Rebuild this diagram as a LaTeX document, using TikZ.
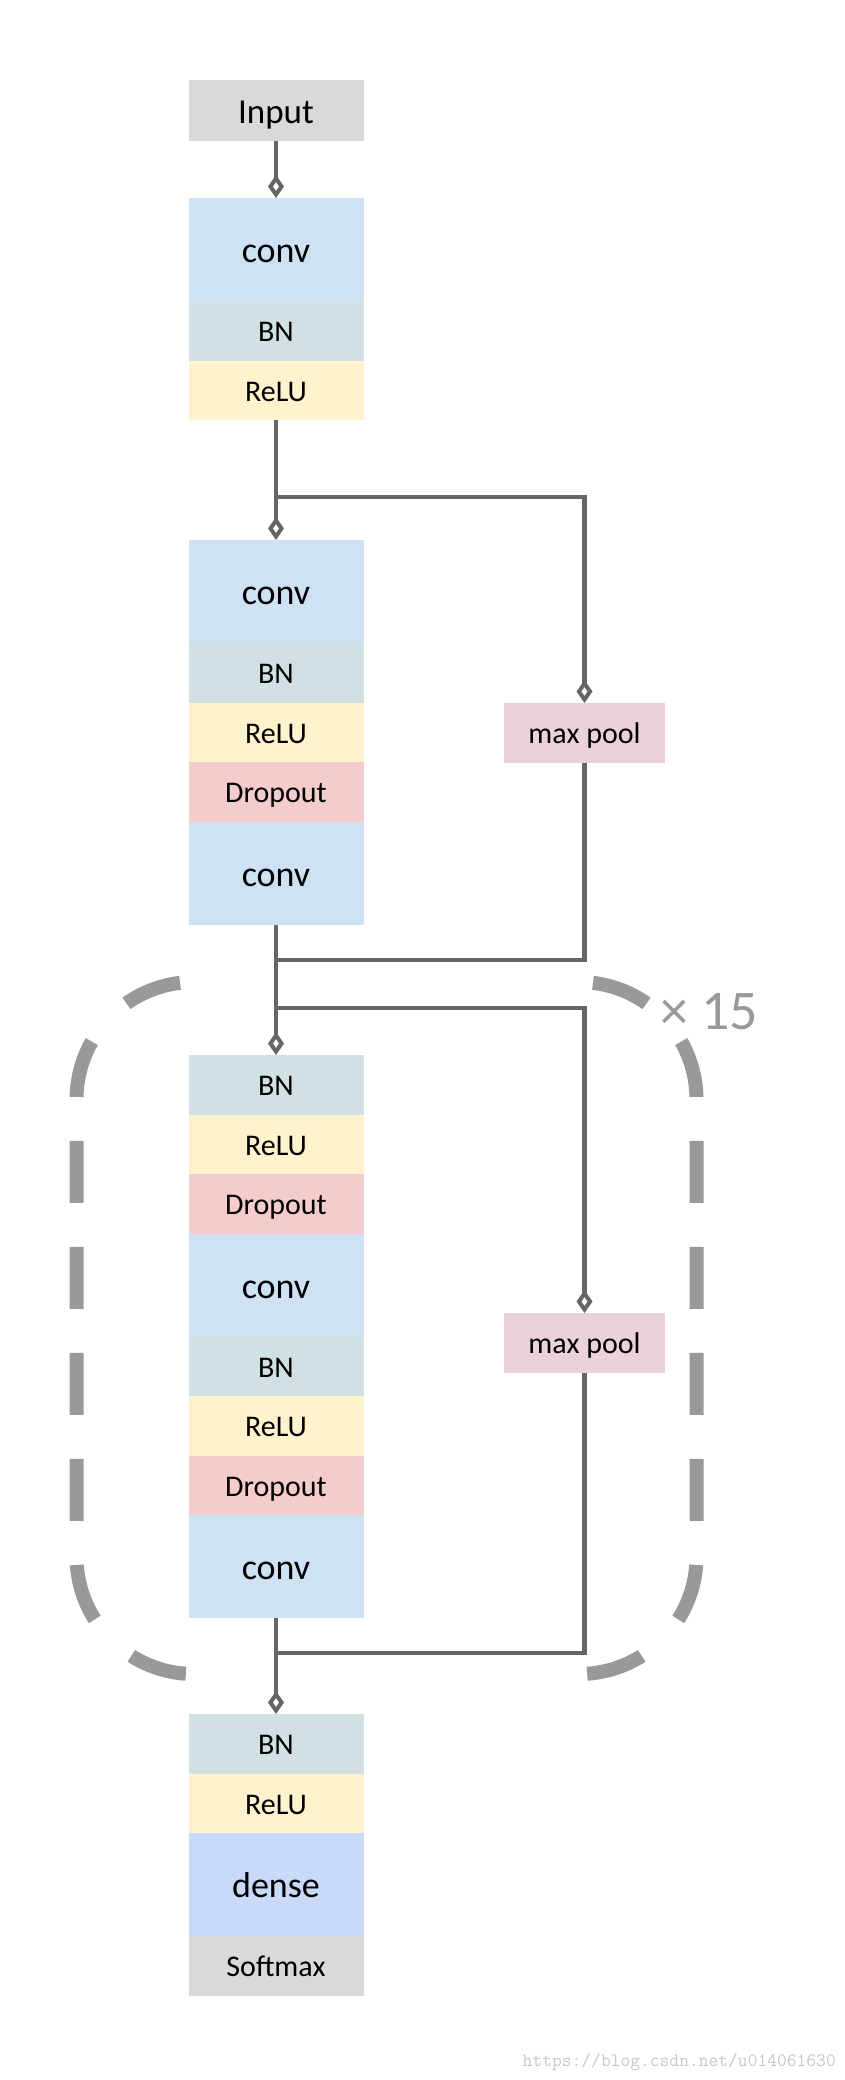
\documentclass[tikz,border=0pt]{standalone}
\usepackage{fontspec}
\setmainfont{Carlito}
\usetikzlibrary{positioning, arrows.meta, calc}

\definecolor{convblue}{HTML}{CFE2F3}
\definecolor{bnteal}{HTML}{D0E0E3}
\definecolor{reluyellow}{HTML}{FFF2CC}
\definecolor{droppink}{HTML}{F4CCCC}
\definecolor{poolmauve}{HTML}{EAD1DC}
\definecolor{denseblue}{HTML}{C9DAF8}
\definecolor{iogray}{HTML}{D9D9D9}
\definecolor{wiregray}{HTML}{666666}
\definecolor{framegray}{HTML}{999999}

\tikzset{
    layer/.style={minimum width=175pt, minimum height=59.5pt, inner sep=0pt,
        outer sep=0pt, text height=22.2pt, text depth=0pt,
        font=\fontsize{30}{36}\selectfont},
    biglayer/.style={layer, minimum height=103pt, text height=26.6pt,
        font=\fontsize{36}{42}\selectfont},
    poolbox/.style={layer, minimum width=161pt, fill=poolmauve},
    wire/.style={draw=wiregray, line width=4.5pt},
    link/.style={wire, -{Diamond[open, fill=white, length=23pt, width=16pt, line width=4pt]}},
    frame/.style={draw=framegray, line width=14pt, rounded corners=117.5pt,
        dash pattern=on 0pt off 14pt on 58pt off 52pt on 58pt off 44pt
        on 62pt off 44pt on 62pt off 44pt on 62pt off 44pt on 62pt off 44pt
        on 58pt off 52pt on 58pt off 40pt}
}

\begin{document}
\begin{tikzpicture}[x=1pt, y=-1pt]
    \useasboundingbox (0,0) rectangle (844,2080);

    % Input
    \node[layer, fill=iogray, minimum height=61pt, text height=25.9pt,
        font=\fontsize{35}{40}\selectfont, anchor=north] (inp) at (276,80) {Input};

    % First block
    \node[biglayer, fill=convblue, anchor=north] (convA) at (276,198) {conv};
    \node[layer, fill=bnteal, below=0pt of convA] (bnA) {BN};
    \node[layer, fill=reluyellow, below=0pt of bnA] (reluA) {ReLU};

    % Second block
    \node[biglayer, fill=convblue, anchor=north] (convB) at (276,540) {conv};
    \node[layer, fill=bnteal, below=0pt of convB] (bnB) {BN};
    \node[layer, fill=reluyellow, below=0pt of bnB] (reluB) {ReLU};
    \node[layer, fill=droppink, below=0pt of reluB] (dropB) {Dropout};
    \node[biglayer, fill=convblue, below=0pt of dropB] (convBB) {conv};
    \node[poolbox, anchor=north] (poolA) at (584.5,703) {max pool};

    % Repeated block (x 15)
    \node[layer, fill=bnteal, anchor=north] (bnC1) at (276,1055) {BN};
    \foreach \name/\prev/\kind/\col/\txt in {
        reluC1/bnC1/layer/reluyellow/ReLU,
        dropC1/reluC1/layer/droppink/Dropout,
        convC1/dropC1/biglayer/convblue/conv,
        bnC2/convC1/layer/bnteal/BN,
        reluC2/bnC2/layer/reluyellow/ReLU,
        dropC2/reluC2/layer/droppink/Dropout,
        convC2/dropC2/biglayer/convblue/conv} {
        \node[\kind, fill=\col, below=0pt of \prev] (\name) {\txt};
    }
    \node[poolbox, anchor=north] (poolB) at (584.5,1313) {max pool};

    % Output block
    \node[layer, fill=bnteal, anchor=north] (bnD) at (276,1714) {BN};
    \node[layer, fill=reluyellow, below=0pt of bnD] (reluD) {ReLU};
    \node[biglayer, fill=denseblue, below=0pt of reluD] (denseD) {dense};
    \node[layer, fill=iogray, below=0pt of denseD] (softD) {Softmax};

    % Dashed frame round the repeated block
    \foreach \xa/\xb in {194/76.5, 579/696.5} {
        \draw[frame] (\xa,982) -- (\xb,982) -- (\xb,1674) -- (\xa,1674);
    }
    \node[font=\fontsize{56}{60}\selectfont, text=framegray, inner sep=0pt,
        anchor=base east] (times) at (758,1029) {× 15};

    % Main path
    \draw[link] (inp) -- (convA);
    \draw[link] (reluA) -- (convB);
    \draw[link] (convBB) -- (bnC1);
    \draw[link] (convC2) -- (bnD);

    % Shortcuts through max pool
    \coordinate (splitA) at (276,497);
    \coordinate (joinA) at (276,960);
    \draw[link] (splitA) -| (poolA);
    \draw[wire] (poolA) |- (joinA);
    \coordinate (splitB) at (276,1008);
    \coordinate (joinB) at (276,1653);
    \draw[link] (splitB) -| (poolB);
    \draw[wire] (poolB) |- (joinB);

    % Watermark
    \node[font=\ttfamily\fontsize{19}{20}\selectfont, text=black!22, inner sep=0pt,
        anchor=base east] (mark) at (836,2066) {https://blog.csdn.net/u014061630};
\end{tikzpicture}
\end{document}
